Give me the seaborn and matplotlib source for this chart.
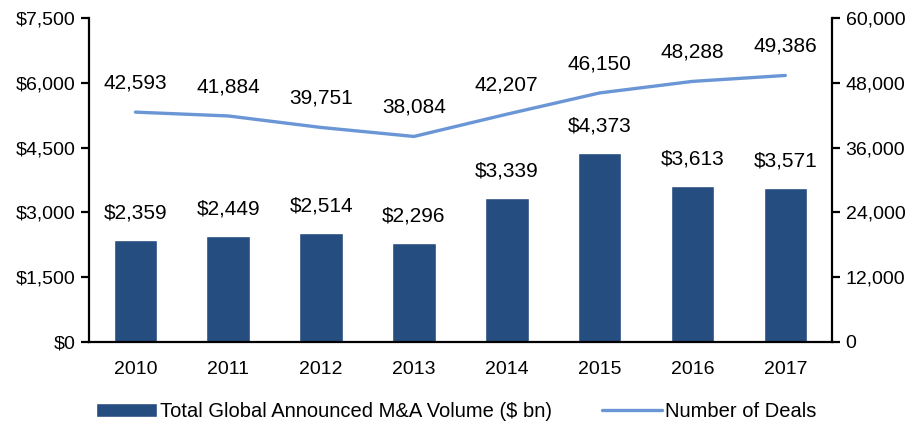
import numpy as np
import pandas as pd
import matplotlib
matplotlib.use('Agg')
import matplotlib.pyplot as plt
import seaborn as sns
from matplotlib.ticker import FuncFormatter, FixedLocator

# data
years = ['2010', '2011', '2012', '2013', '2014', '2015', '2016', '2017']
volume = [2359, 2449, 2514, 2296, 3339, 4373, 3613, 3571]
deals = [42593, 41884, 39751, 38084, 42207, 46150, 48288, 49386]

BAR_COLOR = '#264D80'
LINE_COLOR = '#6A96D6'

sns.set_theme(style='white')
plt.rcParams['font.family'] = ['Liberation Sans', 'DejaVu Sans']
plt.rcParams['axes.linewidth'] = 1.6
plt.rcParams['text.color'] = 'black'

df = pd.DataFrame({'year': years, 'volume': volume, 'deals': deals})

fig = plt.figure(figsize=(9.13, 4.23), dpi=100)
ax = fig.add_axes([0.0975, 0.1915, 0.8135, 0.7655])
ax2 = ax.twinx()

sns.barplot(data=df, x='year', y='volume', color=BAR_COLOR, width=0.47,
            saturation=1, ax=ax, label='Total Global Announced M&A Volume ($ bn)')
sns.pointplot(data=df, x='year', y='deals', color=LINE_COLOR, markers='',
              linewidth=2.4, ax=ax2, label='Number of Deals')

ax.set_ylim(0, 7500)
ax2.set_ylim(0, 60000)
ax.set_xlim(-0.5, len(years) - 0.5)
ax.set_yticks(np.arange(0, 7501, 1500))
ax2.set_yticks(np.arange(0, 60001, 12000))
ax.yaxis.set_major_formatter(FuncFormatter(lambda v, p: f'${v:,.0f}'))
ax2.yaxis.set_major_formatter(FuncFormatter(lambda v, p: f'{v:,.0f}'))

# x ticks: marks at category boundaries, labels at centres
ax.xaxis.set_major_locator(FixedLocator(np.arange(-0.5, len(years), 1.0)))
ax.xaxis.set_minor_locator(FixedLocator(np.arange(len(years))))
ax.set_xticklabels([])
ax.set_xticklabels(years, minor=True)
ax.tick_params(axis='x', which='major', direction='out', length=6, width=1.2, colors='black')
ax.tick_params(axis='x', which='minor', length=0, pad=14, labelsize=14, labelcolor='black')
ax.tick_params(axis='y', direction='out', length=6, width=1.6, labelsize=14, colors='black', pad=4)
ax2.tick_params(axis='y', direction='out', length=6, width=1.6, labelsize=14, colors='black', pad=4)

for a in (ax, ax2):
    a.set_xlabel('')
    a.set_ylabel('')
    a.spines['top'].set_visible(False)
    for s in a.spines.values():
        s.set_color('black')
ax.spines['right'].set_visible(False)
ax2.spines['left'].set_visible(False)
ax2.spines['bottom'].set_visible(False)
ax2.spines['right'].set_linewidth(1.6)

# value labels
for i, v in enumerate(volume):
    ax.annotate(f'${v:,}', (i, v), xytext=(0, 27), textcoords='offset pixels',
                ha='center', va='center', fontsize=15, color='black')
for i, d in enumerate(deals):
    ax2.annotate(f'{d:,}', (i, d), xytext=(0, 29), textcoords='offset pixels',
                 ha='center', va='center', fontsize=15, color='black')

h1, l1 = ax.get_legend_handles_labels()
h2, l2 = ax2.get_legend_handles_labels()
for a in (ax, ax2):
    if a.get_legend():
        a.get_legend().remove()
fig.legend(h1 + h2, l1 + l2, loc='lower center', bbox_to_anchor=(0.5, -0.038),
           ncol=2, frameon=False, fontsize=14.5, handlelength=3.0, handleheight=0.7,
           columnspacing=2.5, handletextpad=0.15, labelcolor='black')

fig.savefig('out.png', dpi=100)
